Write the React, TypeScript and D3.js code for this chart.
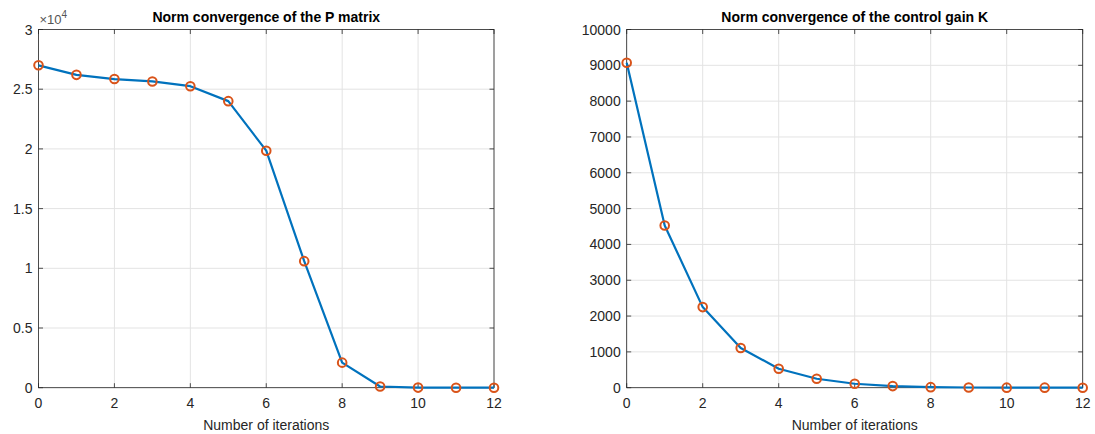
import React from "react";
import * as d3 from "d3";

const iterations = [0, 1, 2, 3, 4, 5, 6, 7, 8, 9, 10, 11, 12];
const pNorm = [27000, 26200, 25850, 25650, 25250, 24000, 19850, 10600, 2100, 100, 10, 2, 0];
const kNorm = [9070, 4530, 2250, 1110, 530, 250, 110, 45, 15, 5, 2, 1, 0];
const xTicks = [0, 2, 4, 6, 8, 10, 12];
const pTicks = [0, 5000, 10000, 15000, 20000, 25000, 30000];
const kTicks = [0, 1000, 2000, 3000, 4000, 5000, 6000, 7000, 8000, 9000, 10000];

const FONT = "'Liberation Sans', Arial, Helvetica, sans-serif";
const LINE = "#0072BD";
const MARK = "#D95319";
const AXIS = "#262626";
const GRID = "#e3e3e3";

type PanelProps = {
  x0: number; x1: number; y0: number; y1: number;
  values: number[]; yMax: number; yTicks: number[];
  title: string; fmt: (v: number) => string; exponent?: boolean;
};

function Panel({ x0, x1, y0, y1, values, yMax, yTicks, title, fmt, exponent }: PanelProps) {
  const x = d3.scaleLinear().domain([0, 12]).range([x0, x1]);
  const y = d3.scaleLinear().domain([0, yMax]).range([y1, y0]);
  const line = d3.line<number>().x((_, i) => x(iterations[i])).y((d) => y(d));
  const tl = 4.5;
  return (
    <g fontFamily={FONT}>
      {xTicks.map((t) => (
        <line key={"gx" + t} x1={x(t)} x2={x(t)} y1={y0} y2={y1} stroke={GRID} strokeWidth={1} />
      ))}
      {yTicks.map((t) => (
        <line key={"gy" + t} x1={x0} x2={x1} y1={y(t)} y2={y(t)} stroke={GRID} strokeWidth={1} />
      ))}
      <rect x={x0} y={y0} width={x1 - x0} height={y1 - y0} fill="none" stroke={AXIS} strokeWidth={0.8} />
      {xTicks.map((t) => (
        <g key={"tx" + t}>
          <line x1={x(t)} x2={x(t)} y1={y1} y2={y1 - tl} stroke={AXIS} strokeWidth={0.8} />
          <line x1={x(t)} x2={x(t)} y1={y0} y2={y0 + tl} stroke={AXIS} strokeWidth={0.8} />
          <text x={x(t)} y={y1 + 20.5} textAnchor="middle" fontSize={14} fill={AXIS}>{t}</text>
        </g>
      ))}
      {yTicks.map((t) => (
        <g key={"ty" + t}>
          <line x1={x0} x2={x0 + tl} y1={y(t)} y2={y(t)} stroke={AXIS} strokeWidth={0.8} />
          <line x1={x1} x2={x1 - tl} y1={y(t)} y2={y(t)} stroke={AXIS} strokeWidth={0.8} />
          <text x={x0 - 6} y={y(t) + 5} textAnchor="end" fontSize={14} fill={AXIS}>{fmt(t)}</text>
        </g>
      ))}
      {exponent && (
        <text x={x0 + 1} y={y0 - 5.5} fontSize={13} fill="#555">
          ×10<tspan dy={-6} fontSize={10}>4</tspan>
        </text>
      )}
      <text x={(x0 + x1) / 2} y={y0 - 8} textAnchor="middle" fontSize={14} fontWeight="bold" fill="#000">{title}</text>
      <text x={(x0 + x1) / 2} y={y1 + 42} textAnchor="middle" fontSize={14} fill={AXIS}>Number of iterations</text>
      <path d={line(values) || ""} fill="none" stroke={LINE} strokeWidth={2.2} strokeLinejoin="round" />
      {values.map((v, i) => (
        <circle key={"m" + i} cx={x(iterations[i])} cy={y(v)} r={4.3} fill="none" stroke={MARK} strokeWidth={2} />
      ))}
    </g>
  );
}

export default function App() {
  return (
    <svg width={1095} height={434} style={{ position: "absolute", left: 0, top: 0, background: "#fff" }}>
      <rect width={1095} height={434} fill="#fff" />
      <Panel x0={38.5} x1={494} y0={29.5} y1={387.7} values={pNorm} yMax={30000} yTicks={pTicks}
        title="Norm convergence of the P matrix" fmt={(v) => String(v / 10000)} exponent />
      <Panel x0={626.7} x1={1082.7} y0={29.5} y1={387.7} values={kNorm} yMax={10000} yTicks={kTicks}
        title="Norm convergence of the control gain K" fmt={(v) => String(v)} />
    </svg>
  );
}
